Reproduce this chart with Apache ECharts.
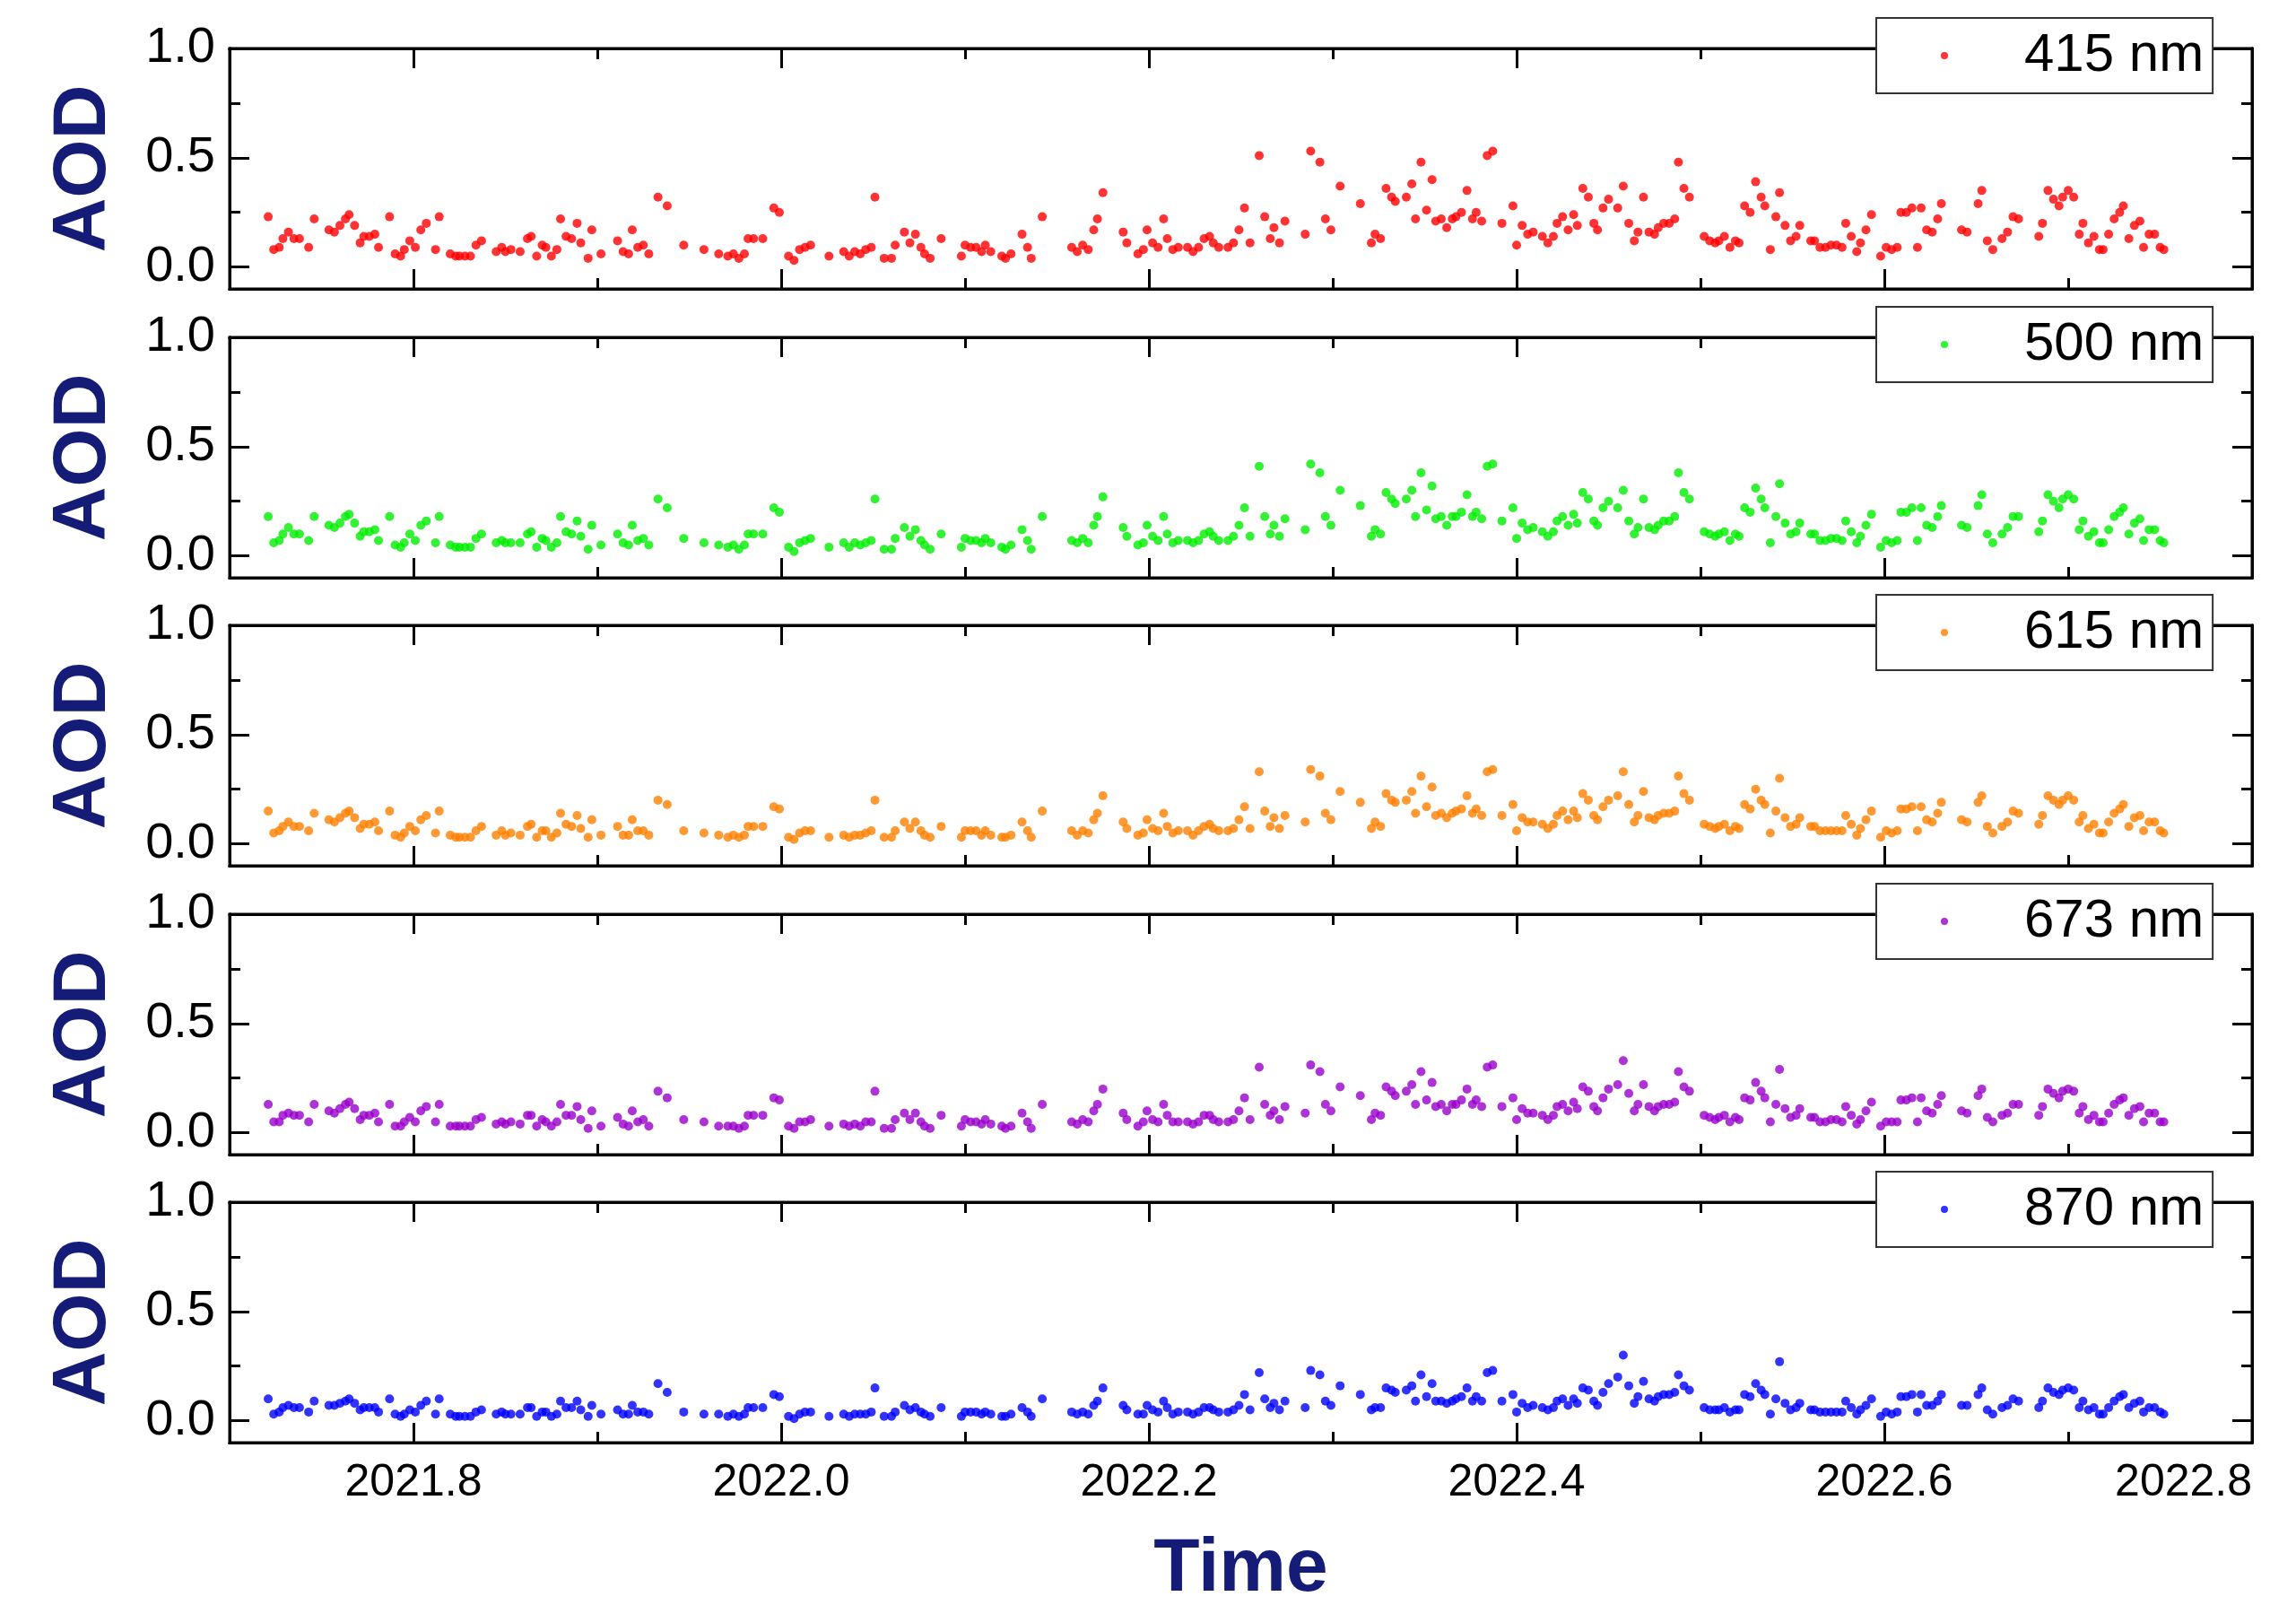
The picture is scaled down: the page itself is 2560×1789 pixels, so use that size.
<!DOCTYPE html>
<html><head><meta charset="utf-8">
<script src="https://cdn.jsdelivr.net/npm/echarts@6/dist/echarts.min.js"></script>
<style>html,body{margin:0;padding:0;background:#fff}#c{width:2560px;height:1789px}</style>
</head><body><div id="c"></div>
<script>
const time = [
2021.721,2021.724,2021.727,2021.729,2021.732,2021.735,2021.738,2021.743,2021.746,2021.754,
2021.757,2021.760,2021.763,2021.765,2021.768,2021.771,2021.773,2021.776,2021.779,2021.781,
2021.787,2021.790,2021.793,2021.795,2021.798,2021.801,2021.804,2021.807,2021.812,2021.814,
2021.820,2021.823,2021.825,2021.828,2021.831,2021.834,2021.837,2021.845,2021.848,2021.850,
2021.853,2021.858,2021.862,2021.864,2021.867,2021.870,2021.872,2021.875,2021.878,2021.880,
2021.883,2021.886,2021.889,2021.891,2021.895,2021.897,2021.902,2021.911,2021.914,2021.917,
2021.919,2021.922,2021.925,2021.928,2021.933,2021.938,2021.947,2021.958,2021.966,2021.971,
2021.974,2021.977,2021.980,2021.982,2021.985,2021.990,
2021.996,2021.999,2022.004,2022.007,2022.010,2022.013,2022.016,2022.026,2022.034,2022.037,
2022.040,2022.043,2022.046,2022.049,2022.051,2022.056,2022.060,2022.062,2022.067,2022.070,
2022.073,2022.076,2022.078,2022.081,2022.087,2022.098,2022.100,2022.103,2022.106,2022.109,
2022.111,2022.114,2022.120,2022.122,2022.125,2022.131,2022.134,2022.136,2022.142,2022.158,
2022.161,2022.164,2022.167,2022.170,2022.172,2022.175,2022.186,2022.188,2022.194,2022.197,
2022.199,2022.202,2022.205,2022.208,2022.210,2022.213,2022.216,2022.221,2022.224,2022.227,
2022.230,2022.233,2022.235,2022.238,2022.243,2022.246,2022.249,2022.252,2022.255,2022.260,
2022.263,2022.266,2022.268,2022.271,2022.274,
2022.285,2022.288,2022.293,2022.296,2022.299,2022.304,2022.315,2022.321,2022.323,2022.326,
2022.329,2022.332,2022.334,2022.340,2022.343,2022.345,2022.348,2022.351,2022.354,2022.356,
2022.359,2022.362,2022.365,2022.367,2022.370,2022.373,2022.376,2022.378,2022.381,2022.384,
2022.387,2022.392,2022.398,2022.400,2022.403,2022.406,2022.409,2022.414,2022.417,2022.420,
2022.422,2022.425,2022.428,2022.431,2022.433,2022.436,2022.439,2022.442,2022.444,2022.447,
2022.450,2022.455,2022.458,2022.461,2022.464,2022.466,2022.469,2022.472,2022.475,2022.477,
2022.480,2022.483,2022.486,2022.488,2022.491,2022.494,2022.502,2022.505,2022.508,2022.510,
2022.513,2022.516,2022.519,2022.521,2022.524,2022.527,2022.530,2022.533,2022.535,2022.538,
2022.541,2022.543,2022.546,2022.549,2022.552,2022.554,2022.560,2022.562,
2022.565,2022.568,2022.571,2022.574,2022.577,2022.579,2022.582,2022.585,2022.587,2022.590,
2022.593,2022.598,2022.601,2022.604,2022.607,2022.609,2022.612,2022.615,2022.618,2022.620,
2022.623,2022.626,2022.629,2022.631,2022.642,2022.645,2022.651,2022.653,2022.656,2022.659,
2022.664,2022.667,2022.670,2022.673,2022.684,2022.686,2022.689,2022.692,2022.695,2022.697,
2022.700,2022.703,2022.706,2022.708,2022.711,2022.714,2022.717,2022.719,2022.722,2022.725,
2022.728,2022.730,2022.733,2022.736,2022.739,2022.741,2022.744,2022.747,2022.750,2022.752];

const aod415 = [
.23,.08,.09,.13,.16,.13,.13,.09,.22,.17,.16,.19,.22,.24,.19,.11,.14,.14,.15,.09,
.23,.06,.05,.08,.12,.09,.17,.20,.08,.23,.06,.05,.05,.05,.05,.10,.12,.07,.09,.07,
.08,.07,.13,.14,.05,.10,.09,.05,.08,.22,.14,.13,.20,.11,.04,.17,.06,.12,.07,.06,
.17,.09,.10,.06,.32,.28,.10,.08,.06,.05,.06,.04,.06,.13,.13,.13,
.27,.25,.05,.03,.08,.09,.10,.05,.07,.05,.07,.06,.08,.09,.32,.04,.04,.10,.16,.11,
.15,.09,.06,.04,.13,.05,.10,.09,.09,.07,.10,.07,.05,.04,.06,.15,.09,.04,.23,.09,
.07,.10,.08,.17,.22,.34,.16,.11,.06,.08,.17,.11,.09,.22,.13,.08,.09,.09,.07,.09,
.13,.14,.11,.09,.09,.11,.17,.27,.11,.51,.23,.13,.18,.11,.21,
.15,.53,.48,.22,.17,.37,.29,.11,.15,.13,.36,.32,.30,.32,.38,.22,.48,.26,.40,.21,
.22,.18,.22,.23,.25,.35,.22,.25,.21,.51,.53,.20,.28,.10,.19,.15,.16,.14,.11,.14,
.20,.23,.17,.24,.19,.36,.32,.20,.17,.27,.31,.27,.37,.20,.12,.16,.32,.16,.15,.18,
.20,.20,.22,.48,.36,.32,.14,.12,.11,.12,.14,.09,.12,.11,.28,.25,.39,.32,.28,.08,
.23,.34,.19,.12,.14,.19,.12,.12,
.09,.09,.10,.10,.09,.20,.14,.07,.11,.17,.24,.05,.09,.08,.09,.25,.25,.27,.09,.27,
.17,.16,.22,.29,.17,.16,.29,.35,.12,.08,.13,.16,.23,.22,.14,.20,.35,.31,.28,.32,
.35,.32,.15,.20,.11,.14,.08,.08,.15,.22,.25,.28,.13,.19,.21,.09,.15,.15,.09,.08];

const aod500 = [
.18,.06,.07,.10,.13,.10,.10,.07,.18,.14,.13,.15,.18,.19,.15,.09,.11,.11,.12,.07,
.18,.05,.04,.06,.10,.07,.14,.16,.06,.18,.05,.04,.04,.04,.04,.08,.10,.06,.07,.06,
.06,.06,.10,.11,.04,.08,.07,.04,.06,.18,.11,.10,.16,.09,.03,.14,.05,.10,.06,.05,
.14,.07,.08,.05,.26,.22,.08,.06,.05,.04,.05,.03,.05,.10,.10,.10,
.22,.20,.04,.02,.06,.07,.08,.04,.06,.04,.06,.05,.06,.07,.26,.03,.03,.08,.13,.09,
.12,.07,.05,.03,.10,.04,.08,.07,.07,.06,.08,.06,.04,.03,.05,.12,.07,.03,.18,.07,
.06,.08,.06,.14,.18,.27,.13,.09,.05,.06,.14,.09,.07,.18,.10,.06,.07,.07,.06,.07,
.10,.11,.09,.07,.07,.09,.14,.22,.09,.41,.18,.10,.14,.09,.17,
.12,.42,.38,.18,.14,.30,.23,.09,.12,.10,.29,.26,.24,.26,.30,.18,.38,.21,.32,.17,
.18,.14,.18,.18,.20,.28,.18,.20,.17,.41,.42,.16,.22,.08,.15,.12,.13,.11,.09,.11,
.16,.18,.14,.19,.15,.29,.26,.16,.14,.22,.25,.22,.30,.16,.10,.13,.26,.13,.12,.14,
.16,.16,.18,.38,.29,.26,.11,.10,.09,.10,.11,.07,.10,.09,.22,.20,.31,.26,.22,.06,
.18,.33,.15,.10,.11,.15,.10,.10,
.07,.07,.08,.08,.07,.16,.11,.06,.09,.14,.19,.04,.07,.06,.07,.20,.20,.22,.07,.22,
.14,.13,.18,.23,.14,.13,.23,.28,.10,.06,.10,.13,.18,.18,.11,.16,.28,.25,.22,.26,
.28,.26,.12,.16,.09,.11,.06,.06,.12,.18,.20,.22,.10,.15,.17,.07,.12,.12,.07,.06];

const aod615 = [
.15,.05,.06,.08,.10,.08,.08,.06,.14,.11,.10,.12,.14,.15,.12,.07,.09,.09,.10,.06,
.15,.04,.03,.05,.08,.06,.11,.13,.05,.15,.04,.03,.03,.03,.03,.06,.08,.04,.06,.04,
.05,.04,.08,.09,.03,.06,.06,.03,.05,.14,.09,.08,.13,.07,.03,.11,.04,.08,.04,.04,
.11,.06,.06,.04,.20,.18,.06,.05,.04,.03,.04,.03,.04,.08,.08,.08,
.17,.16,.03,.02,.05,.06,.06,.03,.04,.03,.04,.04,.05,.06,.20,.03,.03,.06,.10,.07,
.10,.06,.04,.03,.08,.03,.06,.06,.06,.04,.06,.04,.03,.03,.04,.10,.06,.03,.15,.06,
.04,.06,.05,.11,.14,.22,.10,.07,.04,.05,.11,.07,.06,.14,.08,.05,.06,.06,.04,.06,
.08,.09,.07,.06,.06,.07,.11,.17,.07,.33,.15,.08,.12,.07,.13,
.10,.34,.31,.14,.11,.24,.19,.07,.10,.08,.23,.20,.19,.20,.24,.14,.31,.17,.26,.13,
.14,.12,.14,.15,.16,.22,.14,.16,.13,.33,.34,.13,.18,.06,.12,.10,.10,.09,.07,.09,
.13,.15,.11,.15,.12,.23,.20,.13,.11,.17,.20,.22,.33,.18,.10,.13,.24,.12,.11,.13,
.14,.14,.15,.31,.23,.20,.09,.08,.07,.08,.09,.06,.08,.07,.18,.16,.25,.20,.18,.05,
.15,.30,.12,.08,.09,.12,.08,.08,
.06,.06,.06,.06,.06,.13,.09,.04,.07,.11,.15,.03,.06,.05,.06,.16,.16,.17,.06,.17,
.11,.10,.14,.19,.11,.10,.19,.22,.08,.05,.08,.10,.15,.14,.09,.13,.22,.20,.18,.20,
.22,.20,.10,.13,.07,.09,.05,.05,.10,.14,.16,.18,.08,.12,.13,.06,.10,.10,.06,.05];

const aod673 = [
.13,.05,.05,.08,.09,.08,.08,.05,.13,.10,.09,.11,.13,.14,.11,.06,.08,.08,.09,.05,
.13,.03,.03,.05,.07,.05,.10,.12,.05,.13,.03,.03,.03,.03,.03,.06,.07,.04,.05,.04,
.05,.04,.08,.08,.03,.06,.05,.03,.05,.13,.08,.08,.12,.06,.02,.10,.03,.07,.04,.03,
.10,.05,.06,.03,.19,.16,.06,.05,.03,.03,.03,.02,.03,.08,.08,.08,
.16,.15,.03,.02,.05,.05,.06,.03,.04,.03,.04,.03,.05,.05,.19,.02,.02,.06,.09,.06,
.09,.05,.03,.02,.08,.03,.06,.05,.05,.04,.06,.04,.03,.02,.03,.09,.05,.02,.13,.05,
.04,.06,.05,.10,.13,.20,.09,.06,.03,.05,.10,.06,.05,.13,.08,.05,.05,.05,.04,.05,
.08,.08,.06,.05,.05,.06,.10,.16,.06,.30,.13,.08,.10,.06,.12,
.09,.31,.28,.13,.10,.21,.17,.06,.09,.08,.21,.19,.17,.19,.22,.13,.28,.15,.23,.12,
.13,.10,.13,.13,.15,.20,.13,.15,.12,.30,.31,.12,.16,.06,.11,.09,.09,.08,.06,.08,
.12,.13,.10,.14,.11,.21,.19,.12,.10,.16,.20,.22,.33,.18,.10,.13,.22,.12,.10,.12,
.13,.13,.14,.28,.21,.19,.08,.07,.06,.07,.08,.05,.07,.06,.16,.15,.23,.19,.16,.05,
.13,.29,.11,.07,.08,.11,.07,.07,
.05,.05,.06,.06,.05,.12,.08,.04,.06,.10,.14,.03,.05,.05,.05,.15,.15,.16,.05,.16,
.10,.09,.13,.17,.10,.09,.17,.20,.07,.05,.08,.09,.13,.13,.08,.12,.20,.18,.16,.19,
.20,.19,.09,.12,.06,.08,.05,.05,.09,.13,.15,.16,.08,.11,.12,.05,.09,.09,.05,.05];

const aod870 = [
.10,.03,.04,.06,.07,.06,.06,.04,.09,.07,.07,.08,.09,.10,.08,.05,.06,.06,.06,.04,
.10,.03,.02,.03,.05,.04,.07,.09,.03,.10,.03,.02,.02,.02,.02,.04,.05,.03,.04,.03,
.03,.03,.06,.06,.02,.04,.04,.02,.03,.09,.06,.06,.09,.05,.02,.07,.03,.05,.03,.03,
.07,.04,.04,.03,.17,.13,.04,.03,.03,.02,.03,.02,.03,.06,.06,.06,
.12,.11,.02,.01,.03,.04,.04,.02,.03,.02,.03,.03,.03,.04,.15,.02,.02,.04,.07,.05,
.06,.04,.03,.02,.06,.02,.04,.04,.04,.03,.04,.03,.02,.02,.03,.06,.04,.02,.10,.04,
.03,.04,.03,.07,.09,.15,.07,.05,.03,.03,.07,.05,.04,.09,.06,.03,.04,.04,.03,.04,
.06,.06,.05,.04,.04,.05,.07,.12,.05,.22,.10,.06,.08,.05,.09,
.06,.23,.21,.09,.07,.16,.12,.05,.06,.06,.15,.14,.13,.14,.16,.09,.21,.11,.17,.09,
.09,.08,.09,.10,.11,.15,.09,.11,.09,.22,.23,.09,.12,.04,.08,.06,.07,.06,.05,.06,
.09,.10,.07,.10,.08,.15,.14,.09,.07,.13,.17,.20,.30,.16,.08,.11,.18,.10,.09,.11,
.12,.12,.13,.21,.16,.14,.06,.05,.05,.05,.06,.04,.05,.05,.12,.11,.17,.14,.12,.03,
.10,.27,.08,.05,.06,.08,.05,.05,
.04,.04,.04,.04,.04,.09,.06,.03,.05,.07,.10,.02,.04,.03,.04,.11,.11,.12,.04,.12,
.07,.07,.09,.12,.07,.07,.12,.15,.05,.03,.06,.07,.10,.09,.06,.09,.15,.13,.12,.14,
.15,.14,.06,.09,.05,.06,.03,.03,.06,.09,.11,.12,.06,.08,.09,.04,.06,.06,.04,.03];

const names = ['415 nm','500 nm','615 nm','673 nm','870 nm'];
const colors = ['#ff0000','#00ee00','#ff8000','#9900cc','#0000ff'];
const values = [aod415, aod500, aod615, aod673, aod870];
const xMajor = [2021.8,2022.0,2022.2,2022.4,2022.6,2022.8];
const xMinor = [2021.7,2021.9,2022.1,2022.3,2022.5,2022.7];
const yMajor = [0,0.5,1.0];
const yMinor = [0.25,0.75];

const navy = '#141c78';
const FONT = 'Arial, Liberation Sans';
const tops = [54,376,697,1019,1340];
const H = 268;
const grid=[], xAxis=[], yAxis=[], series=[], legend=[];
const line = {show:true, onZero:false, lineStyle:{color:'#000', width:3}};
const tick = (len, vals) => ({show:true, inside:true, length:len, lineStyle:{width:3,color:'#000'}, customValues:vals});
tops.forEach((t,g)=>{
  grid.push({left:256, right:49, top:t, height:H, show:true, borderColor:'#000', borderWidth:3,
    backgroundColor:'transparent', outerBoundsMode:'none', containLabel:false});
  const last = g===4;
  const xb = {type:'value', gridIndex:g, min:2021.7, max:2022.8, axisLine:line, splitLine:{show:false}};
  xAxis.push(Object.assign({}, xb, {position:'bottom', axisTick:tick(22,xMajor),
    axisLabel:{show:last, customValues:xMajor, fontSize:50, color:'#000', fontFamily:FONT, margin:20,
      alignMaxLabel:'right', formatter:v=>v.toFixed(1)},
    name: last?'Time':'', nameLocation:'middle', nameGap:100,
    nameTextStyle:{fontSize:84, fontWeight:'bold', color:navy, fontFamily:FONT, verticalAlign:'top'}}));
  xAxis.push(Object.assign({}, xb, {position:'bottom', axisTick:tick(12,xMinor), axisLabel:{show:false}}));
  xAxis.push(Object.assign({}, xb, {position:'top', axisTick:tick(22,xMajor), axisLabel:{show:false}}));
  xAxis.push(Object.assign({}, xb, {position:'top', axisTick:tick(12,xMinor), axisLabel:{show:false}}));
  const yb = {type:'value', gridIndex:g, min:-0.1, max:1.0, axisLine:line, splitLine:{show:false}};
  yAxis.push(Object.assign({}, yb, {position:'left', axisTick:tick(22,yMajor),
    axisLabel:{show:true, customValues:yMajor, fontSize:56, color:'#000', fontFamily:FONT, margin:16, formatter:v=>v.toFixed(1)},
    name:'AOD', nameLocation:'middle', nameRotate:90, nameGap:120,
    nameTextStyle:{fontSize:84, fontWeight:'bold', color:navy, fontFamily:FONT}}));
  yAxis.push(Object.assign({}, yb, {position:'left', axisTick:tick(12,yMinor), axisLabel:{show:false}}));
  yAxis.push(Object.assign({}, yb, {position:'right', axisTick:tick(22,yMajor), axisLabel:{show:false}}));
  yAxis.push(Object.assign({}, yb, {position:'right', axisTick:tick(12,yMinor), axisLabel:{show:false}}));
  series.push({type:'scatter', name:names[g], xAxisIndex:g*4, yAxisIndex:g*4,
    symbol:'circle', symbolSize:10, itemStyle:{color:colors[g]},
    data: time.map((x,i)=>[x, values[g][i]]), z:3});
  legend.push({data:[names[g]], left:2092, top:t-34, orient:'vertical',
    icon:'circle', itemWidth:8, itemHeight:8, itemGap:0,
    backgroundColor:'#fff', borderColor:'#333', borderWidth:2, borderRadius:0,
    padding:[12,10,12,72],
    textStyle:{fontSize:60, color:'#000', fontFamily:FONT, padding:[0,0,0,80]}});
});

const chart = echarts.init(document.getElementById('c'));
chart.setOption({animation:false, backgroundColor:'#fff', grid, xAxis, yAxis, series, legend});
</script>
</body></html>
